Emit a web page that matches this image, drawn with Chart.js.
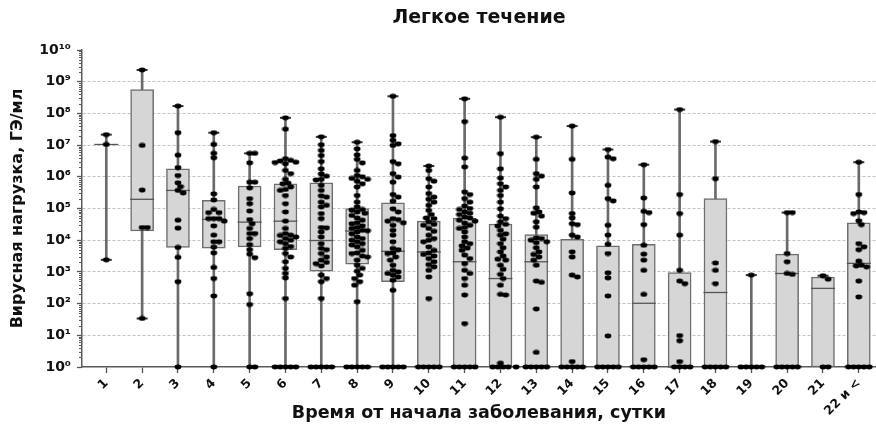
<!DOCTYPE html>
<html>
<head>
<meta charset="utf-8">
<script src="https://cdn.jsdelivr.net/npm/chart.js@4.4.1/dist/chart.umd.min.js"></script>
<style>
  html, body { margin: 0; padding: 0; background: #fff; }
  #wrap { width: 876px; height: 426px; }
</style>
</head>
<body>
<div id="wrap"><canvas id="c"></canvas></div>
<script>
// Days since onset (x categories)
const dayLabels = ['1','2','3','4','5','6','7','8','9','10','11','12','13','14','15','16','17','18','19','20','21','22 и <'];

// Box-plot summary per day, as lg(viral load, GE/ml); null = no box drawn
const lgMin    = [3.38, 1.53, 0, 0, 0, 0, 0, 0, 0, 0, 0, 0, 0, 0, 0, 0, 0, 0, 0, 0, 0, 0];
const lgQ1     = [null, 4.29, 3.77, 3.75, 3.79, 3.70, 3.02, 3.24, 2.69, 0, 0, 0, 0, 0, 0, 0, 0, 0, null, 0, 0, 0];
const lgMedian = [7.02, 5.29, 5.57, 4.66, 4.57, 4.60, 3.99, 4.29, 3.65, 3.63, 3.32, 2.79, 3.32, 0, 0, 2.01, 0, 2.35, 0, 2.95, 2.48, 3.27];
const lgQ3     = [null, 8.75, 6.25, 5.26, 5.71, 5.78, 5.81, 5.00, 5.18, 4.60, 4.70, 4.51, 4.18, 4.03, 3.82, 3.87, 2.98, 5.31, null, 3.56, 2.84, 4.55];
const lgMax    = [7.33, 9.37, 8.23, 7.39, 6.74, 7.86, 7.26, 7.09, 8.54, 6.34, 8.46, 7.88, 7.25, 7.60, 6.86, 6.38, 8.12, 7.11, 2.90, 4.87, 2.88, 6.46];

// Individual samples per day, lg(viral load); 0 = below detection (plotted at 10^0)
const lgSamples = [
  [7.33, 7.02, 3.38],
  [9.37, 6.99, 5.58, 4.40, 4.40, 1.53],
  [8.23, 7.39, 6.68, 6.29, 6.04, 5.81, 5.69, 5.57, 5.49, 4.63, 4.38, 3.77, 3.46, 2.69, 0],
  [7.39, 7.02, 6.74, 6.60, 5.46, 5.27, 4.97, 4.87, 4.87, 4.68, 4.68, 4.68, 4.60, 4.45, 4.16, 3.95, 3.95, 3.78, 3.60, 3.14, 2.79, 2.24, 0],
  [6.74, 6.74, 6.44, 5.83, 5.83, 5.65, 5.31, 5.15, 4.92, 4.65, 4.52, 4.37, 4.21, 4.21, 4.05, 3.86, 3.70, 3.56, 3.45, 2.31, 1.97, 0, 0],
  [7.86, 7.50, 6.57, 6.52, 6.50, 6.46, 6.45, 6.41, 6.20, 6.10, 5.92, 5.80, 5.78, 5.68, 5.60, 5.57, 5.41, 5.15, 4.89, 4.60, 4.37, 4.21, 4.16, 4.15, 4.10, 4.05, 4.00, 3.95, 3.89, 3.80, 3.74, 3.58, 3.47, 3.32, 3.11, 2.95, 2.81, 2.16, 0, 0, 0, 0, 0],
  [7.26, 7.01, 6.83, 6.67, 6.48, 6.25, 6.09, 6.02, 5.92, 5.90, 5.73, 5.57, 5.40, 5.36, 5.20, 5.10, 5.05, 4.84, 4.68, 4.40, 4.39, 4.26, 4.10, 3.89, 3.74, 3.70, 3.58, 3.47, 3.37, 3.30, 3.26, 3.19, 2.90, 2.79, 2.69, 2.16, 0, 0, 0, 0, 0],
  [7.09, 6.88, 6.69, 6.55, 6.44, 6.20, 6.04, 6.00, 5.95, 5.92, 5.86, 5.78, 5.68, 5.41, 5.20, 5.05, 4.97, 4.95, 4.89, 4.85, 4.78, 4.70, 4.63, 4.55, 4.52, 4.45, 4.40, 4.37, 4.31, 4.30, 4.26, 4.20, 4.10, 4.05, 4.00, 3.95, 3.89, 3.85, 3.79, 3.68, 3.60, 3.58, 3.50, 3.47, 3.37, 3.21, 3.11, 3.02, 2.90, 2.79, 2.69, 2.58, 2.06, 0, 0, 0, 0, 0],
  [8.54, 7.30, 7.15, 7.04, 6.99, 6.48, 6.41, 6.10, 5.99, 5.83, 5.44, 5.36, 5.23, 4.99, 4.89, 4.68, 4.65, 4.60, 4.55, 4.47, 4.31, 4.16, 3.95, 3.74, 3.70, 3.60, 3.58, 3.47, 3.37, 3.21, 3.05, 3.00, 2.95, 2.90, 2.84, 2.74, 2.42, 0, 0, 0, 0, 0],
  [6.34, 6.20, 5.94, 5.86, 5.68, 5.47, 5.36, 5.29, 5.20, 5.10, 4.94, 4.81, 4.70, 4.68, 4.58, 4.50, 4.47, 4.37, 4.28, 4.16, 4.05, 4.00, 3.95, 3.79, 3.68, 3.60, 3.55, 3.50, 3.42, 3.32, 3.23, 3.16, 3.05, 2.84, 2.16, 0, 0, 0, 0, 0],
  [8.46, 7.74, 6.59, 6.31, 5.52, 5.44, 5.31, 5.20, 5.08, 5.00, 4.97, 4.89, 4.85, 4.81, 4.73, 4.70, 4.63, 4.60, 4.54, 4.47, 4.40, 4.37, 4.26, 4.10, 3.95, 3.89, 3.82, 3.75, 3.68, 3.53, 3.42, 3.26, 3.05, 2.95, 2.79, 2.58, 2.27, 1.37, 0, 0, 0, 0, 0],
  [7.88, 6.73, 6.25, 5.96, 5.78, 5.68, 5.57, 5.41, 5.20, 4.99, 4.76, 4.68, 4.58, 4.50, 4.45, 4.31, 4.20, 4.16, 4.03, 3.89, 3.76, 3.63, 3.50, 3.40, 3.37, 3.21, 3.08, 2.92, 2.79, 2.58, 2.29, 2.27, 0.12, 0, 0, 0, 0, 0],
  [7.25, 6.55, 6.10, 6.02, 5.92, 5.68, 5.02, 4.89, 4.85, 4.76, 4.58, 4.41, 4.07, 4.05, 4.00, 3.95, 3.92, 3.76, 3.63, 3.55, 3.47, 3.37, 3.21, 2.71, 2.67, 1.83, 0.46, 0, 0, 0, 0, 0],
  [7.60, 6.55, 5.49, 4.84, 4.70, 4.52, 4.49, 4.16, 4.10, 3.63, 3.47, 2.90, 2.84, 0.17, 0, 0, 0, 0, 0],
  [6.86, 6.62, 6.57, 5.73, 5.31, 5.24, 4.47, 4.16, 3.87, 3.58, 2.97, 2.81, 2.24, 0.98, 0, 0, 0, 0, 0],
  [6.38, 5.33, 4.91, 4.87, 4.49, 3.84, 3.56, 3.37, 3.05, 2.29, 0.23, 0, 0, 0, 0, 0],
  [8.12, 5.44, 4.84, 4.16, 3.05, 2.71, 2.63, 0.99, 0.83, 0.17, 0, 0, 0, 0],
  [7.11, 5.94, 3.28, 3.05, 2.63, 0, 0, 0, 0, 0],
  [2.90, 0, 0, 0, 0, 0],
  [4.87, 4.87, 3.58, 3.32, 2.95, 2.92, 0, 0, 0, 0, 0],
  [2.88, 2.77, 0, 0],
  [6.46, 5.44, 4.89, 4.87, 4.84, 4.61, 4.49, 3.89, 3.79, 3.70, 3.34, 3.21, 3.19, 3.16, 2.71, 2.21, 0, 0, 0, 0, 0]
];

// Decade ticks of the y axis (exponents)
const yDecades = [0, 1, 2, 3, 4, 5, 6, 7, 8, 9, 10];

const pow10 = e => Math.pow(10, e);
const SUP = ['⁰','¹','²','³','⁴','⁵','⁶','⁷','⁸','⁹'];
const supNum = n => String(n).split('').map(d => SUP[+d]).join('');
const FONT = "'DejaVu Sans', 'Liberation Sans', Arial, sans-serif";

// Small black oval used as the sample marker
const dot = document.createElement('canvas');
dot.width = 8; dot.height = 6;
(() => {
  const g = dot.getContext('2d');
  g.fillStyle = '#000';
  g.beginPath();
  g.ellipse(4, 3, 3.4, 2.4, 0, 0, Math.PI * 2);
  g.fill();
})();

const whiskerData = lgMin.map((m, i) => ({ x: i + 1, y: [pow10(m), pow10(lgMax[i])] }));
const boxData = [];
lgQ1.forEach((q, i) => { if (q !== null) boxData.push({ x: i + 1, y: [pow10(q), pow10(lgQ3[i])] }); });
const medianData = lgMedian.map((m, i) => ({ x: i + 1, y: pow10(m) }));
const capData = [];
lgMax.forEach((m, i) => {
  capData.push({ x: i + 1, y: pow10(m) });
  if (lgMin[i] > 0) capData.push({ x: i + 1, y: pow10(lgMin[i]) });
});
const sampleData = [];
lgSamples.forEach((list, i) => list.forEach(v => sampleData.push({ x: i + 1, y: pow10(v) })));

// Minor logarithmic ticks along the y axis
const minorTicks = {
  id: 'minorTicks',
  afterDraw(chart) {
    const ys = chart.scales.y;
    const ctx = chart.ctx;
    const x0 = ys.right;
    ctx.save();
    ctx.strokeStyle = '#5a5a5a';
    ctx.lineWidth = 1;
    for (let e = 0; e < 10; e++) {
      for (let k = 2; k <= 9; k++) {
        const y = Math.round(ys.getPixelForValue(k * pow10(e))) + 0.5;
        ctx.beginPath();
        ctx.moveTo(x0 - 3, y);
        ctx.lineTo(x0, y);
        ctx.stroke();
      }
    }
    ctx.restore();
  }
};

function makeConfig(samples) {
  return {
    type: 'bar',
    data: {
      datasets: [
        {
          type: 'line', label: 'samples', data: samples, showLine: false,
          pointStyle: dot, pointRadius: 3, clip: false, order: 0
        },
        {
          type: 'line', label: 'median', data: medianData, showLine: false,
          pointStyle: 'line', pointRadius: 12, pointBorderWidth: 1.3,
          pointBorderColor: '#555', clip: false, order: 1
        },
        {
          type: 'line', label: 'caps', data: capData, showLine: false,
          pointStyle: 'line', pointRadius: 5.5, pointBorderWidth: 2,
          pointBorderColor: '#333', clip: false, order: 1
        },
        {
          type: 'bar', label: 'IQR', data: boxData, grouped: false,
          barThickness: 23, backgroundColor: '#d6d6d6', borderColor: '#6e6e6e',
          borderWidth: 1.5, borderSkipped: false, order: 2
        },
        {
          type: 'bar', label: 'range', data: whiskerData, grouped: false,
          barThickness: 2, backgroundColor: '#6a6a6a', borderWidth: 0, order: 3
        }
      ]
    },
    options: {
      responsive: true,
      maintainAspectRatio: false,
      animation: false,
      events: [],
      layout: { padding: 0, autoPadding: false },
      plugins: {
        legend: { display: false },
        tooltip: { enabled: false },
        title: {
          display: true, text: 'Легкое течение', fullSize: false, color: '#111',
          font: { family: FONT, size: 19, weight: 'bold', lineHeight: 1.2 },
          padding: { top: 7, bottom: 20.2 }
        }
      },
      scales: {
        x: {
          type: 'linear', min: 0.322, max: 22.48, offset: false,
          afterBuildTicks: s => { s.ticks = dayLabels.map((_, i) => ({ value: i + 1 })); },
          afterFit: s => { s.height = 59; s.paddingLeft = 0; s.paddingRight = 0; },
          ticks: {
            autoSkip: false, maxRotation: 45, minRotation: 45, padding: 3, color: '#111',
            font: { family: FONT, size: 12.5, weight: 'bold' },
            callback: v => dayLabels[Math.round(v) - 1]
          },
          grid: { offset: false, drawOnChartArea: false, drawTicks: true, tickLength: 6, tickColor: '#555', tickWidth: 1.3 },
          border: { display: true, color: '#5a5a5a', width: 1.5 },
          title: {
            display: true, text: 'Время от начала заболевания, сутки', color: '#111',
            font: { family: FONT, size: 17.5, weight: 'bold' },
            padding: { top: 0, bottom: 2.5 }
          }
        },
        y: {
          type: 'logarithmic', min: 1, max: 1e10,
          afterBuildTicks: s => { s.ticks = yDecades.map(e => ({ value: pow10(e) })); },
          afterFit: s => { s.width = 82; },
          ticks: {
            autoSkip: false, padding: 6, color: '#111',
            font: { family: FONT, size: 14, weight: 'bold' },
            callback: v => '10' + supNum(Math.round(Math.log10(v)))
          },
          grid: {
            color: c => (c.tick && c.tick.value > 1.5 && c.tick.value < 5e9) ? '#c2c2c2' : 'rgba(0,0,0,0)',
            lineWidth: 1, tickColor: '#555', tickLength: 5, tickWidth: 1.3
          },
          border: { display: true, color: '#5a5a5a', width: 1.5, dash: [3, 2] },
          title: {
            display: true, text: 'Вирусная нагрузка, ГЭ/мл', color: '#111',
            font: { family: FONT, size: 16, weight: 'bold' },
            padding: { top: 8, bottom: 0 }
          }
        }
      }
    },
    plugins: [minorTicks]
  };
}

// Spread samples sideways (beeswarm) so overlapping markers stay visible
function spreadSamples(chart) {
  const xs = chart.scales.x, ys = chart.scales.y;
  const unit = xs.getPixelForValue(2) - xs.getPixelForValue(1);
  const W = 5.2, H = 4.2, STEP = 2.6;
  const out = [];
  lgSamples.forEach((list, ci) => {
    const placed = [];
    list.slice().sort((a, b) => b - a).forEach(lg => {
      const v = pow10(lg);
      const py = ys.getPixelForValue(v);
      let off = 0;
      for (let k = 0; k < 60; k++) {
        const cand = k === 0 ? 0 : (k % 2 ? 1 : -1) * Math.ceil(k / 2) * STEP;
        const ok = placed.every(p => Math.pow((p.dx - cand) / W, 2) + Math.pow((p.py - py) / H, 2) >= 1);
        if (ok) { off = cand; break; }
      }
      placed.push({ dx: off, py });
      out.push({ x: ci + 1 + off / unit, y: v });
    });
  });
  return out;
}

// First pass lays out the scales; the chart is then rebuilt with the spread samples
const canvas = document.getElementById('c');
const draft = new Chart(canvas, makeConfig(sampleData));
const spread = spreadSamples(draft);
draft.destroy();
const chart = new Chart(canvas, makeConfig(spread));
</script>
</body>
</html>
